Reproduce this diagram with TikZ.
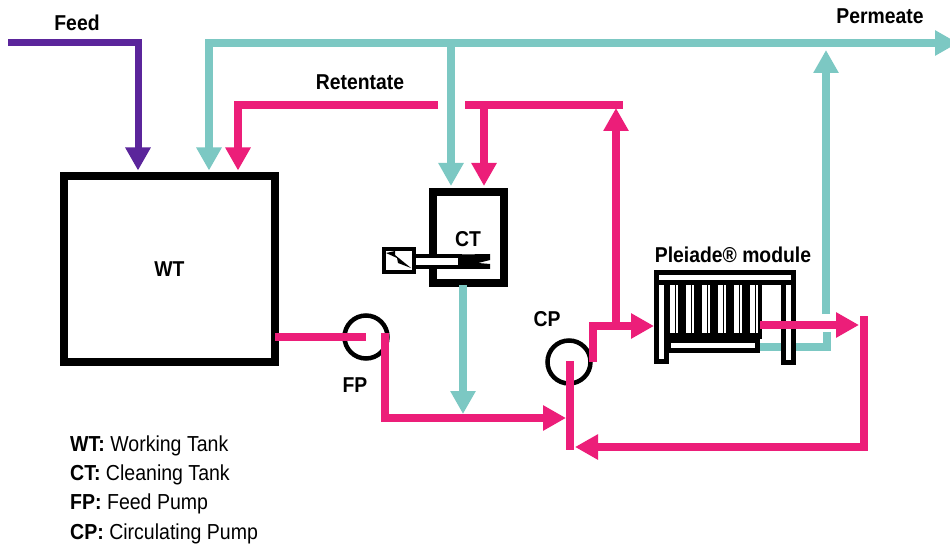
\documentclass[tikz,border=0pt]{standalone}
\usepackage{fontspec}
\setmainfont[FakeStretch=0.9]{Liberation Sans}
\usetikzlibrary{arrows.meta}
\definecolor{feedcol}{HTML}{5B259B}
\definecolor{pinkcol}{HTML}{EC1E79}
\definecolor{tealcol}{HTML}{7CC8C3}
\tikzset{
	pipe/.style={line width=8pt, line join=miter},
	pink/.style={pipe, draw=pinkcol},
	teal/.style={pipe, draw=tealcol},
	head/.style={-{Triangle[length=23pt,width=24pt]}},
	bothheads/.style={{Triangle[length=23pt,width=24pt]}-{Triangle[length=23pt,width=24pt]}},
	tank/.style={rectangle, draw=black, fill=white, inner sep=0pt},
	pump/.style={circle, draw=black, line width=4.5pt, inner sep=0pt, minimum size=43pt},
	part/.style={rectangle, draw=black, fill=white, line width=5pt, inner sep=0pt},
	tag/.style={font=\bfseries\fontsize{21.5}{25}\selectfont, inner sep=0pt},
}
\begin{document}
\begin{tikzpicture}[x=1pt, y=-1pt]
	\clip (0,0) rectangle (950,545);
	% Nodes
	\node[tank, line width=8pt, minimum width=211pt, minimum height=185pt, tag] (wt) at (169.5,269) {WT};
	\node[tank, line width=8pt, minimum width=71pt, minimum height=91pt] (ct) at (468.5,237.5) {};
	\node[tag] (ctlabel) at (468,239) {CT};
	\node[pump] (fp) at (366,337) {};
	\node[pump] (cp) at (569,362) {};
	\node[tag] (feedlabel) at (77,23) {Feed};
	\node[tag] (permlabel) at (880,16) {Permeate};
	\node[tag] (retlabel) at (360,82) {Retentate};
	\node[tag] (fplabel) at (355,385) {FP};
	\node[tag] (cplabel) at (547,319) {CP};
	\node[tag] (modlabel) at (733,255) {Pleiade® module};
	\node[anchor=west, align=left, inner sep=0pt, font=\fontsize{21.7}{29.3}\selectfont] (legend) at (70,489.5)
		{\textbf{WT:} Working Tank\\\textbf{CT:} Cleaning Tank\\\textbf{FP:} Feed Pump\\\textbf{CP:} Circulating Pump};
	% Pipe ends
	\coordinate (feedstart) at (8,43);
	\coordinate (feedbend) at (138,43);
	\coordinate (permbend) at (209,43);
	\coordinate (permend) at (958,43);
	\coordinate (washdown) at (451,43);
	\coordinate (modup) at (826,314);
	\coordinate (modjoin) at (826,43);
	\coordinate (modout) at (760,347);
	\coordinate (modbend) at (827,332);
	\coordinate (retstart) at (438,105);
	\coordinate (retbend) at (238,105);
	\coordinate (loopstart) at (465,105);
	\coordinate (loopend) at (623,105);
	\coordinate (loopdrop) at (484,105);
	\coordinate (risertip) at (616,108);
	\coordinate (riserfoot) at (616,326);
	\coordinate (ctdrain) at (463,285);
	\coordinate (draintip) at (463,414);
	\coordinate (wtout) at (275,337);
	\coordinate (fpout) at (385,333);
	\coordinate (cpin) at (566,418);
	\coordinate (cptop) at (570,361);
	\coordinate (cpfoot) at (570,450);
	\coordinate (cpout) at (593,362);
	\coordinate (retout) at (760,325);
	\coordinate (rettip) at (859,325);
	\coordinate (rettop) at (864,316);
	\coordinate (cpreturn) at (575,447);
	% Feed and permeate
	\draw[pipe, line width=7pt, draw=feedcol, head, shorten >=2pt] (feedstart) -- (feedbend) -- (feedbend |- wt.north);
	\draw[teal, bothheads, shorten <=2pt] (wt.north -| permbend) |- (permend);
	\draw[teal, head, shorten >=2pt] (washdown) -- (washdown |- ct.north);
	\draw[teal, head] (modup) -- ([yshift=-7pt]modjoin);
	\draw[teal] (modout) -| (modbend);
	\draw[teal, head] (ctdrain) -- (draintip);
	% Stirrer
	\draw[draw=black, fill=white, line width=4pt] (414,256.5) rectangle (460,267);
	\fill[black] (460,254.5) -- (490,254) -- (490,260) -- (478,263) -- (490,264) -- (490,269) -- (460,269) -- cycle;
	\node[tank, line width=4pt, minimum width=30pt, minimum height=23pt] (stirbox) at (399,260.5) {};
	\fill[black] (386,253) -- (395,251) -- (395,255) -- (411,268) -- (398,263) -- (397,258) -- cycle;
	% Module
	\node[part, minimum width=137pt, minimum height=10pt] (modtop) at (725,277.5) {};
	\node[part, minimum width=10pt, minimum height=79pt] (modleft) at (661.5,322) {};
	\node[part, minimum width=10pt, minimum height=79.5pt] (modright) at (788.5,322.25) {};
	\node[rectangle, fill=black, inner sep=0pt, minimum width=98pt, minimum height=54pt] (modcore) at (713,312) {};
	\node[part, minimum width=89pt, minimum height=10pt] (modbase) at (713,345.5) {};
	\foreach \i in {0,1,2,3,4,5} {
		\fill[white] ({669.5 + 16 * \i},285) rectangle ++(5,48);
		\fill[white] ({675.5 + 16 * \i},285) rectangle ++(2.5,48);
	}
	% Retentate and circulation
	\draw[pink, head, shorten >=2pt] (retstart) -| (retbend |- wt.north);
	\draw[pink] (loopstart) -- (loopend);
	\draw[pink, head, shorten >=2pt] (loopdrop) -- (loopdrop |- ct.north);
	\draw[pink, head] (riserfoot) -- (risertip);
	\draw[pink] (wtout) -- (fp.center);
	\draw[pink, head] (fpout) |- (cpin);
	\draw[pink] (cptop) -- (cpfoot);
	\draw[pink, head] (cpout) |- (modleft.west |- riserfoot);
	\draw[pink, head] (retout) -- (rettip);
	\draw[pink, head] (rettop) |- (cpreturn);
\end{tikzpicture}
\end{document}
